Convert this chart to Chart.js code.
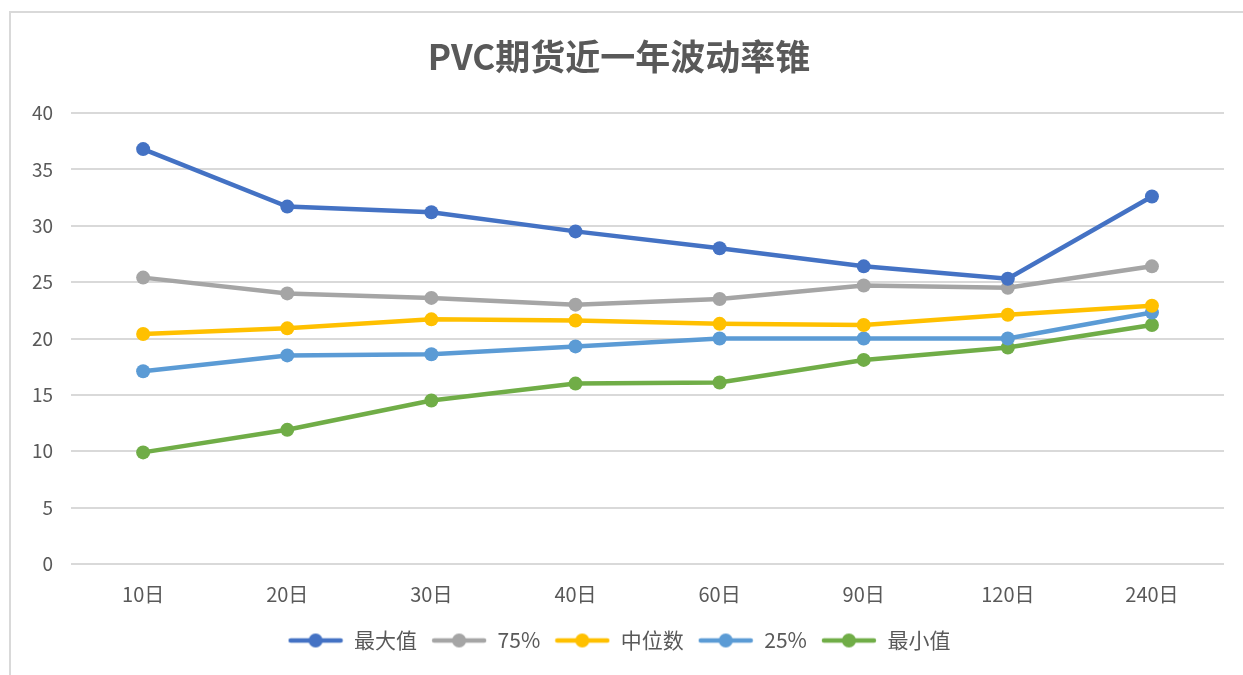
<!DOCTYPE html>
<html>
<head>
<meta charset="utf-8">
<script src="https://cdn.jsdelivr.net/npm/chart.js@4/dist/chart.umd.min.js"></script>
<style>
  html, body { margin: 0; padding: 0; background: #fff; }
  #frame {
    position: absolute; left: 9px; top: 11px; width: 1250px; height: 680px;
    border-left: 2px solid #d9d9d9; border-top: 2px solid #d9d9d9;
  }
  #wrap { position: absolute; left: 0; top: 0; width: 1243px; height: 675px; }
</style>
</head>
<body>
<div id="frame"></div>
<div id="wrap"><canvas id="vol"></canvas></div>
<script>
// 波动率锥数据
var periods = ['10日', '20日', '30日', '40日', '60日', '90日', '120日', '240日'];
var maxVals = [36.8, 31.7, 31.2, 29.5, 28.0, 26.4, 25.3, 32.6];
var p75Vals = [25.4, 24.0, 23.6, 23.0, 23.5, 24.7, 24.5, 26.4];
var medVals = [20.4, 20.9, 21.7, 21.6, 21.3, 21.2, 22.1, 22.9];
var p25Vals = [17.1, 18.5, 18.6, 19.3, 20.0, 20.0, 20.0, 22.3];
var minVals = [9.9, 11.9, 14.5, 16.0, 16.1, 18.1, 19.2, 21.2];
var yTicks = [0, 5, 10, 15, 20, 25, 30, 35, 40];

var seriesNames = ['最大值', '75%', '中位数', '25%', '最小值'];
var seriesData = [maxVals, p75Vals, medVals, p25Vals, minVals];
var colors = ['#4472c4', '#a5a5a5', '#ffc000', '#5b9bd5', '#70ad47'];

var fontFamily = '"Liberation Sans Narrow", "Noto Sans CJK SC", sans-serif';

// legend marker: short line with a dot in the middle
function legendIcon(color) {
    var c = document.createElement('canvas');
    c.width = 56; c.height = 16;
    var ctx = c.getContext('2d');
    ctx.strokeStyle = color;
    ctx.lineWidth = 4.5;
    ctx.lineCap = 'round';
    ctx.beginPath();
    ctx.moveTo(3, 8); ctx.lineTo(53, 8);
    ctx.stroke();
    ctx.fillStyle = color;
    ctx.beginPath();
    ctx.arc(28, 8, 7, 0, Math.PI * 2);
    ctx.fill();
    return c;
}

var datasets = [];
for (var i = 0; i < seriesNames.length; i++) {
    datasets.push({
        label: seriesNames[i],
        data: seriesData[i],
        borderColor: colors[i],
        backgroundColor: colors[i],
        borderWidth: 4.5,
        pointRadius: 7,
        pointHoverRadius: 7,
        pointBorderWidth: 0,
        pointStyle: 'circle',
        tension: 0,
        fill: false
    });
}

var chart = new Chart(document.getElementById('vol').getContext('2d'), {
    type: 'line',
    data: { labels: periods, datasets: datasets },
    options: {
        responsive: true,
        maintainAspectRatio: false,
        animation: false,
        layout: { padding: { left: 14, right: 19, top: 36, bottom: 14 } },
        plugins: {
            title: {
                display: true,
                text: 'PVC期货近一年波动率锥',
                color: '#595959',
                font: { family: fontFamily, size: 35, weight: 'bold' },
                padding: { top: 0, bottom: 35 }
            },
            legend: {
                position: 'bottom',
                labels: {
                    color: '#595959',
                    font: { family: fontFamily, size: 21 },
                    usePointStyle: true,
                    pointStyleWidth: 56,
                    boxHeight: 16,
                    padding: 14,
                    generateLabels: function(ch) {
                        return ch.data.datasets.map(function(ds, idx) {
                            return {
                                text: ds.label,
                                fillStyle: ds.borderColor,
                                strokeStyle: ds.borderColor,
                                fontColor: '#595959',
                                lineWidth: 0,
                                pointStyle: legendIcon(ds.borderColor),
                                datasetIndex: idx
                            };
                        });
                    }
                }
            },
            tooltip: { enabled: false }
        },
        scales: {
            x: {
                offset: true,
                grid: { display: false },
                border: { display: false },
                ticks: {
                    color: '#595959',
                    font: { family: fontFamily, size: 20 },
                    padding: 10
                }
            },
            y: {
                min: 0,
                max: 40,
                afterBuildTicks: function(axis) {
                    axis.ticks = yTicks.map(function(v) { return { value: v }; });
                },
                grid: { color: '#d9d9d9', lineWidth: 2, drawTicks: false },
                border: { display: false },
                ticks: {
                    color: '#595959',
                    font: { family: fontFamily, size: 19 },
                    padding: 18
                }
            }
        }
    }
});
</script>
</body>
</html>
